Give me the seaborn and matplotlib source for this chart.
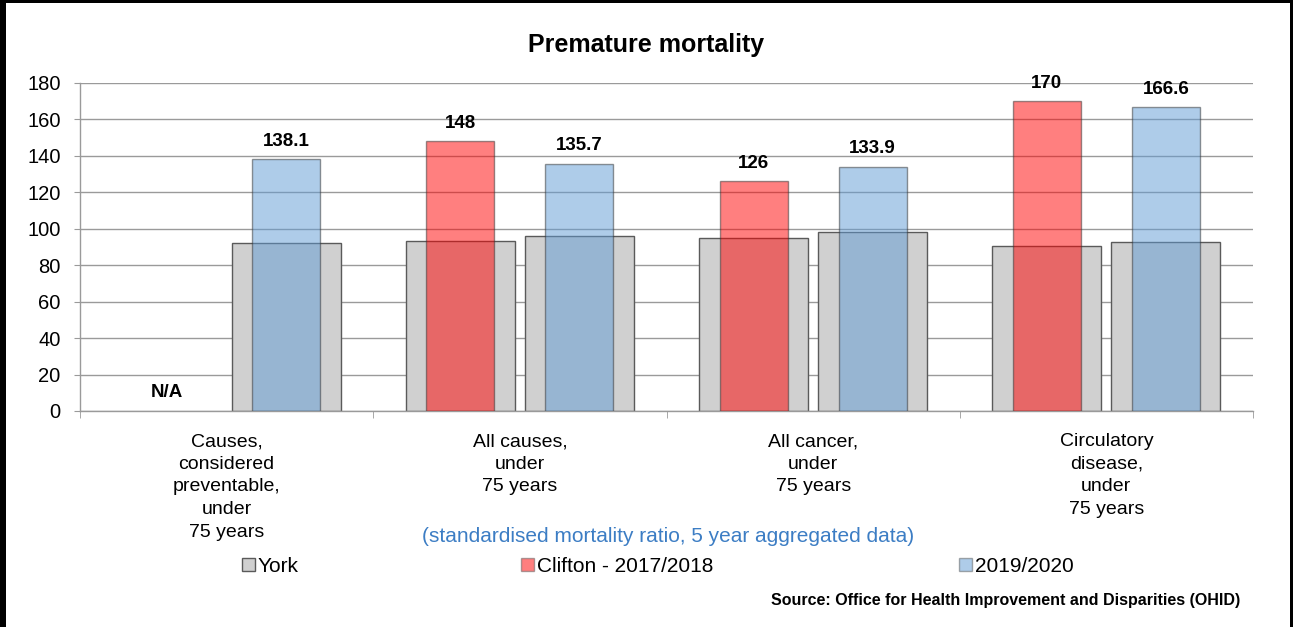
import numpy as np
import pandas as pd
import matplotlib
matplotlib.use("Agg")
import matplotlib.pyplot as plt
import seaborn as sns
from matplotlib.patches import Patch, Rectangle

# Premature mortality, standardised mortality ratio (5 year aggregated data)
causes = [
    "Causes,\nconsidered\npreventable,\nunder\n75 years",
    "All causes,\nunder\n75 years",
    "All cancer,\nunder\n75 years",
    "Circulatory\ndisease,\nunder\n75 years",
]
periods = ["2017/2018", "2019/2020"]
york_2017 = [np.nan, 93.5, 95.0, 90.5]
york_2019 = [92.0, 96.0, 98.0, 92.5]
clifton_2017 = [np.nan, 148, 126, 170]
clifton_2019 = [138.1, 135.7, 133.9, 166.6]
y_ticks = [0, 20, 40, 60, 80, 100, 120, 140, 160, 180]

GRAY = "#D0D0D0"
RED = "#FF0000"
BLUE = "#5F9BD5"
EDGE = "#5A5A5A"


def long_frame(v17, v19):
    rows = []
    for cause, a, b in zip(causes, v17, v19):
        rows.append((cause, periods[0], a))
        rows.append((cause, periods[1], b))
    df = pd.DataFrame(rows, columns=["cause", "period", "value"])
    return df.dropna()


york = long_frame(york_2017, york_2019)
clifton = long_frame(clifton_2017, clifton_2019)

sns.set_style("white")
plt.rcParams["font.family"] = ["Liberation Sans", "DejaVu Sans"]
plt.rcParams["text.color"] = "black"
plt.rcParams["xtick.labelcolor"] = "black"
plt.rcParams["ytick.labelcolor"] = "black"

fig = plt.figure(figsize=(12.93, 6.27), dpi=100)
ax = fig.add_axes([80 / 1293, 216 / 627, 1173 / 1293, 328 / 627])

# York comparator: wide grey bars behind
sns.barplot(data=york, x="cause", y="value", hue="period", order=causes,
            hue_order=periods, palette=[GRAY, GRAY], saturation=1,
            width=0.812, gap=0.084, edgecolor=EDGE, linewidth=1.0,
            legend=False, ax=ax, zorder=2)
# Clifton ward: narrower translucent bars in front
sns.barplot(data=clifton, x="cause", y="value", hue="period", order=causes,
            hue_order=periods, palette=[RED, BLUE], saturation=1,
            width=0.812, gap=0.43, edgecolor="#303030", linewidth=1.0,
            alpha=0.5, legend=False, ax=ax, zorder=3)

for cont in ax.containers[2:]:
    ax.bar_label(cont, fmt="%g", padding=7, fontsize=13.5,
                 fontweight="bold", color="black")

# No Clifton figure for preventable causes in 2017/2018: mark the empty slot
blue_first = ax.containers[3][0]
dodge = blue_first.get_x() + blue_first.get_width() / 2 - 0
ax.annotate("N/A", (0 - dodge, 0), xytext=(0, 7), textcoords="offset points",
            ha="center", va="bottom", fontsize=13.5, fontweight="bold")

ax.set_ylim(0, 180)
ax.set_xlim(-0.5, len(causes) - 0.5)
ax.set_yticks(y_ticks)
ax.set_xlabel("")
ax.set_ylabel("")
ax.yaxis.grid(True, color="#9A9A9A", linewidth=1.0, zorder=0)
ax.set_axisbelow(True)
for side in ["top", "right"]:
    ax.spines[side].set_visible(False)
for side in ["left", "bottom"]:
    ax.spines[side].set_color("#9A9A9A")
    ax.spines[side].set_linewidth(1.0)
ax.tick_params(axis="y", labelsize=14.5, length=4, color="#9A9A9A", left=True, pad=10)
ax.tick_params(axis="x", which="major", length=0, labelsize=14, pad=16)
ax.set_xticks(np.arange(-0.5, len(causes)), minor=True)
ax.tick_params(axis="x", which="minor", length=5, color="#9A9A9A", bottom=True)
for lbl in ax.get_xticklabels():
    lbl.set_linespacing(1.43)
    lbl.set_verticalalignment("top")

fig.text(0.5, 1 - 45 / 627, "Premature mortality", ha="center", va="center",
         fontsize=18, fontweight="bold")
fig.text(668 / 1293, 1 - 537 / 627,
         "(standardised mortality ratio, 5 year aggregated data)",
         ha="center", va="center", fontsize=15, color="#3C7DC4")
fig.text(1240 / 1293, 1 - 600 / 627,
         "Source: Office for Health Improvement and Disparities (OHID)",
         ha="right", va="center", fontsize=11.5, fontweight="bold")

legend_items = [
    ("York", Patch(facecolor=GRAY, edgecolor=EDGE, linewidth=1.0), 242),
    ("Clifton - 2017/2018", Patch(facecolor=RED, alpha=0.5, edgecolor=EDGE, linewidth=1.0), 521),
    ("2019/2020", Patch(facecolor=BLUE, alpha=0.5, edgecolor=EDGE, linewidth=1.0), 959),
]
for label, handle, xpix in legend_items:
    fig.legend([handle], [label], loc="center left",
               bbox_to_anchor=(xpix / 1293, 1 - 566 / 627), frameon=False,
               fontsize=15, handlelength=0.6, handleheight=0.6,
               handletextpad=0.15, borderpad=0, borderaxespad=0)

# Black frame around the chart area
fig.add_artist(Rectangle((0, 0), 6 / 1293, 1, transform=fig.transFigure,
                         facecolor="black", edgecolor="none"))
fig.add_artist(Rectangle((0, 1 - 3 / 627), 1, 3 / 627, transform=fig.transFigure,
                         facecolor="black", edgecolor="none"))
fig.add_artist(Rectangle((1 - 3 / 1293, 0), 3 / 1293, 1, transform=fig.transFigure,
                         facecolor="black", edgecolor="none"))

fig.savefig("out.png", dpi=100)
